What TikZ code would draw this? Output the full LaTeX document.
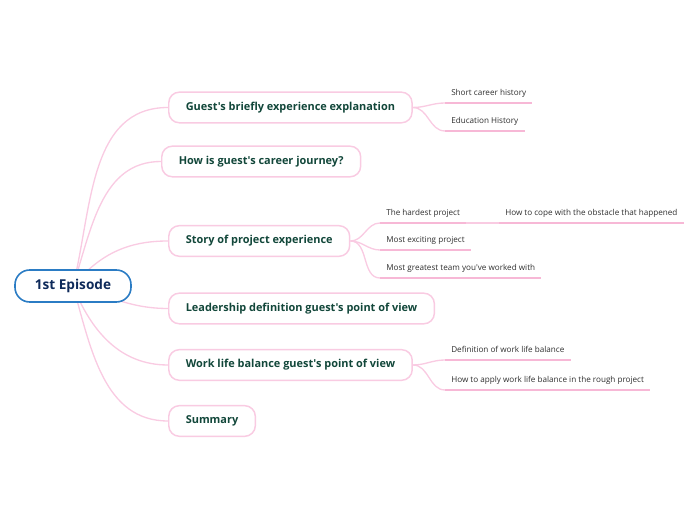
\documentclass[tikz,border=0pt]{standalone}
\usepackage{fontspec}
\setmainfont{Open Sans}[Ligatures=TeXOff]
\usetikzlibrary{positioning,backgrounds}
\definecolor{pinkline}{HTML}{F9CBE2}
\definecolor{pinkbar}{HTML}{F7B8D6}
\definecolor{rootblue}{HTML}{2B7CC4}
\definecolor{rootink}{HTML}{0E2A5A}
\definecolor{topicink}{HTML}{12473A}
\definecolor{subink}{HTML}{2E2E2E}

\begin{document}
\begin{tikzpicture}[
  x=0.75pt, y=0.75pt,
  root/.style  = {draw=rootblue, line width=1.2pt, fill=white,
                  rounded corners=11pt, minimum width=87pt, minimum height=24pt,
                  font=\bfseries\fontsize{10.2}{12}\selectfont, text=rootink},
  topic/.style = {draw=pinkline, line width=1.1pt, fill=white, anchor=west,
                  rounded corners=8pt, minimum height=23pt, inner xsep=12.8pt,
                  font=\bfseries\fontsize{8.2}{10}\selectfont, text=topicink},
  sub/.style   = {anchor=south west, inner xsep=4.5pt, inner ysep=3.75pt,
                  text depth=1.5pt, font=\fontsize{6.1}{7}\selectfont,
                  text=subink},
  uline/.style = {draw=pinkbar, line width=1.1pt},
  link/.style  = {draw=pinkline, line width=1pt},
]
\useasboundingbox (0,0) rectangle (696,520);

%% ==== central topic =======================================================
\node[root] (root) at (73,234) {1st Episode};

%% ==== main topics =========================================================
\node[topic] (t1) at (168,412.5) {Guest's briefly experience explanation};
\node[topic] (t2) at (161,358.5) {How is guest's career journey?};
\node[topic] (t3) at (168,279)   {Story of project experience};
\node[topic] (t4) at (168,211.5) {Leadership definition guest's point of view};
\node[topic] (t5) at (168,155)   {Work life balance guest's point of view};
\node[topic] (t6) at (168,99)    {Summary};

%% ==== subtopics ===========================================================
\node[sub] (s11) at (445,417) {Short career history};
\node[sub] (s12) at (445,389) {Education History};
\node[sub] (s31) at (380,297) {The hardest project};
\node[sub] (s311) at (499,297) {How to cope with the obstacle that happened};
\node[sub] (s32) at (380,270) {Most exciting project};
\node[sub] (s33) at (380,242) {Most greatest team you've worked with};
\node[sub] (s51) at (445,160) {Definition of work life balance};
\node[sub] (s52) at (445,130) {How to apply work life balance in the rough project};

\foreach \s in {s11,s12,s31,s311,s32,s33,s51,s52}
  \draw[uline] (\s.south west) -- (\s.south east);

%% ==== connectors, behind the boxes ========================================
\begin{scope}[on background layer]
\draw[link] (root.center) to[out=76, in=180] (t1.west);
\draw[link] (root.center) to[out=72, in=180] (t2.west);
\draw[link] (root.center) to[out=50, in=180] (t3.west);
\draw[link] (root.center) to[out=-15, in=180] (t4.west);
\draw[link] (root.center) to[out=-68, in=180] (t5.west);
\draw[link] (root.center) to[out=-74, in=180] (t6.west);

\draw[link] (t1.east) to[out=0, in=180] (s11.south west);
\draw[link] (t1.east) to[out=0, in=180] (s12.south west);
\draw[link] (t3.east) to[out=0, in=180] (s31.south west);
\draw[link] (t3.east) to[out=0, in=180] (s32.south west);
\draw[link] (t3.east) to[out=0, in=180] (s33.south west);
\draw[link] (s31.south east) to[out=0, in=180] (s311.south west);
\draw[link] (t5.east) to[out=0, in=180] (s51.south west);
\draw[link] (t5.east) to[out=0, in=180] (s52.south west);
\end{scope}

\end{tikzpicture}
\end{document}
